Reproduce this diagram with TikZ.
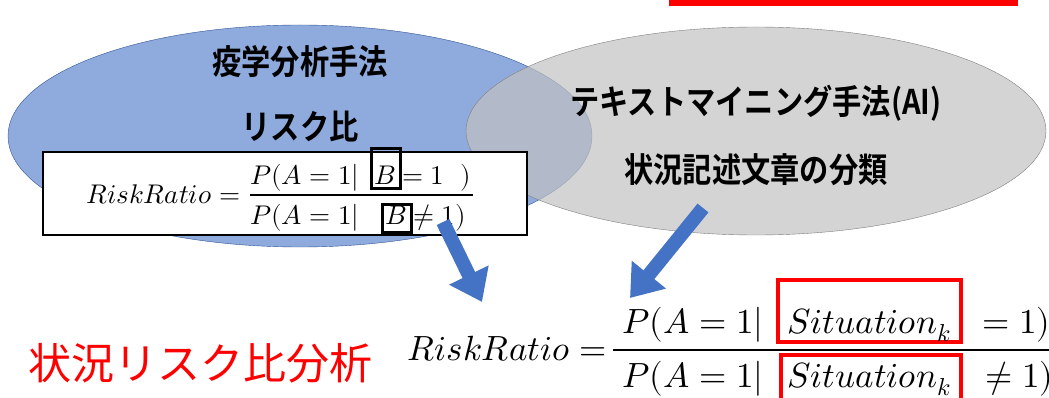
\documentclass[tikz,border=0pt]{standalone}
\usepackage{fontspec}
\usepackage{unicode-math}
\setmathfont{Latin Modern Math}
\newfontfamily\jpbold[FakeStretch=0.86]{Noto Sans CJK JP Bold}
\newfontfamily\jp{Noto Sans CJK JP}
\usetikzlibrary{arrows.meta}
\definecolor{venblue}{HTML}{8FAADC}
\definecolor{venblueline}{HTML}{2F5597}
\definecolor{vengray}{HTML}{C2C2C2}
\definecolor{vengrayline}{HTML}{7F7F7F}
\definecolor{arrowblue}{HTML}{4472C4}
\tikzset{
	label jp/.style={font=\jpbold\fontsize{34}{40}\selectfont},
	big math/.style={font=\fontsize{35}{42}\selectfont, anchor=base west, inner sep=0pt},
	small math/.style={font=\fontsize{27}{32}\selectfont, anchor=base west, inner sep=0pt},
	bbox/.style={draw, line width=3pt, inner sep=0pt},
	redbox/.style={draw=red, line width=4pt, inner sep=0pt},
	blockarrow/.style={arrowblue, line width=14pt, -{Triangle[width=42pt,length=30pt]}},
}
\begin{document}
\begin{tikzpicture}[x=1pt, y=-1pt]
	\useasboundingbox (0,0) rectangle (1049,398);
	\clip (0,0) rectangle (1049,398);
	\fill[red] (669,0) rectangle (1018,6);
	\draw[venblueline, fill=venblue] (300,136) ellipse [x radius=292pt, y radius=111pt];
	\draw[vengrayline, fill=vengray, fill opacity=0.7] (756,131) ellipse [x radius=290pt, y radius=104pt];
	\node[label jp] (epi) at (300,62) {疫学分析手法};
	\node[label jp] (rr) at (300,127) {リスク比};
	\node[label jp] (tm) at (756,103) {テキストマイニング手法(AI)};
	\node[label jp] (sitdesc) at (756,170) {状況記述文章の分類};
	\node[draw, fill=white, line width=1.2pt, minimum width=484pt, minimum height=83pt] (frm) at (285,193.5) {};
	\node[small math] (tlhs) at (86,204) {$RiskRatio=$};
	\coordinate (tbarL) at (250,195);
	\coordinate (tbarR) at (473,195);
	\draw[line width=1.2pt] (tbarL) -- (tbarR);
	\node[small math] (tpn) at (250,185) {$P(A=1|$};
	\node[bbox, minimum width=29pt, minimum height=40pt] (tbn) at (385.5,169) {};
	\node[small math] (tbnt) at (374,185) {$B$};
	\node[small math] (ten) at (402,185) {$=1\ \ )$};
	\node[small math] (tpd) at (250,225) {$P(A=1|$};
	\node[bbox, minimum width=29pt, minimum height=27pt] (tbd) at (396.5,218.5) {};
	\node[small math] (tbdt) at (385,225) {$B$};
	\node[small math] (ted) at (413,225) {$\neq 1)$};
	\node[big math] (lhs) at (407,360) {$RiskRatio=$};
	\coordinate (barL) at (613,350);
	\coordinate (barR) at (1060,350);
	\draw[line width=2pt] (barL) -- (barR);
	\node[big math] (pnum) at (622,333) {$P(A=1|$};
	\node[redbox, minimum width=183pt, minimum height=62pt] (snum) at (869.5,311) {};
	\node[big math] (snumt) at (787,333) {$Situation_k$};
	\node[big math] (enum) at (982,333) {$=1)$};
	\node[big math] (pden) at (622,387) {$P(A=1|$};
	\node[redbox, minimum width=180pt, minimum height=56pt] (sden) at (871,383) {};
	\node[big math] (sdent) at (787,387) {$Situation_k$};
	\node[big math] (eden) at (985,387) {$\neq 1)$};
	\coordinate (a1s) at (443,222);
	\coordinate (a1e) at (482,302);
	\coordinate (a2s) at (703,208);
	\coordinate (a2e) at (630,298);
	\draw[blockarrow] (a1s) -- (a1e);
	\draw[blockarrow] (a2s) -- (a2e);
	\node[font=\jp\fontsize{43}{50}\selectfont, text=red] (title) at (200,363) {状況リスク比分析};
\end{tikzpicture}
\end{document}
